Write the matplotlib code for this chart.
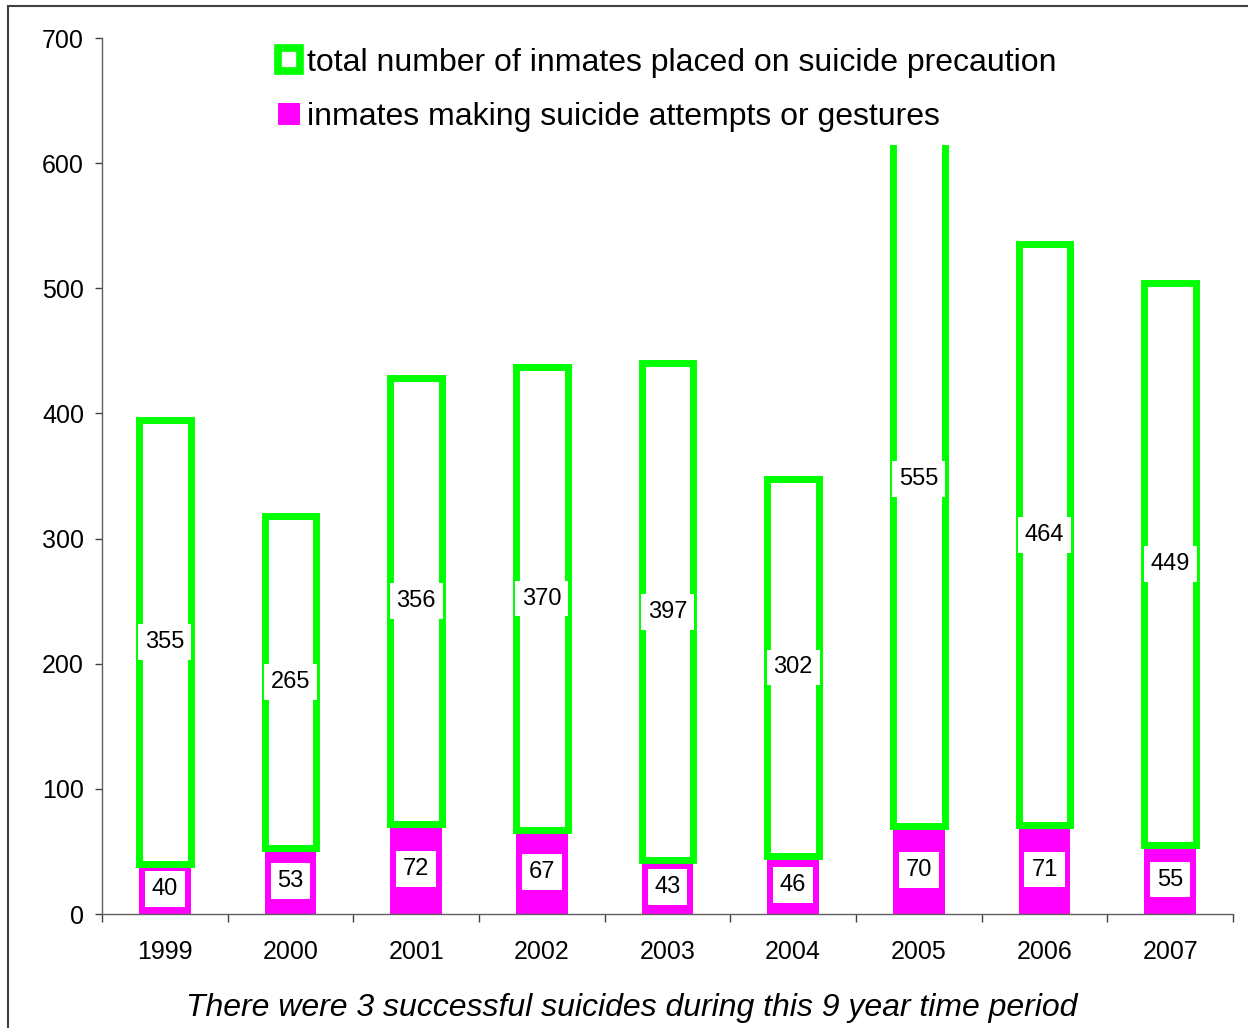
import matplotlib
matplotlib.use('Agg')
import matplotlib.pyplot as plt
from matplotlib.patches import Patch, Rectangle
from matplotlib.ticker import FixedLocator, NullFormatter
import numpy as np

years = ['1999', '2000', '2001', '2002', '2003', '2004', '2005', '2006', '2007']
attempts = [40, 53, 72, 67, 43, 46, 70, 71, 55]
precaution = [355, 265, 356, 370, 397, 302, 555, 464, 449]
legend_labels = ['total number of inmates placed on suicide precaution',
                 'inmates making suicide attempts or gestures']
caption = 'There were 3 successful suicides during this 9 year time period'

plt.rcParams['font.family'] = ['Liberation Sans', 'DejaVu Sans']

W, H = 1248, 1028
fig = plt.figure(figsize=(W / 100, H / 100), dpi=100)
ax = fig.add_axes([102 / W, 1 - 914 / H, (1233 - 102) / W, (914 - 38) / H])

GREEN = '#00FF00'
MAGENTA = '#FF00FF'
x = np.arange(len(years))
w = 0.41

ax.bar(x, attempts, w, color=MAGENTA, edgecolor='none', zorder=2)
ax.bar(x, precaution, w, bottom=attempts, facecolor='white', edgecolor=GREEN,
       linewidth=5, zorder=3)

box = dict(facecolor='white', edgecolor='none', pad=5)
for i in range(len(years)):
    ax.text(x[i], attempts[i] / 2, str(attempts[i]), ha='center', va='center',
            fontsize=17, bbox=box, zorder=5)
    ax.text(x[i], attempts[i] + precaution[i] / 2, str(precaution[i]),
            ha='center', va='center', fontsize=17, bbox=box, zorder=5)

ax.set_xlim(-0.5, len(years) - 0.5)
ax.set_ylim(0, 700)
ax.set_yticks(range(0, 701, 100))
ax.tick_params(axis='y', direction='out', length=5, width=1, color='#404040',
               labelsize=18, pad=8)

ax.xaxis.set_major_locator(FixedLocator(np.arange(-0.5, len(years), 1.0)))
ax.xaxis.set_major_formatter(NullFormatter())
ax.xaxis.set_minor_locator(FixedLocator(x))
ax.set_xticks(x, minor=True)
ax.set_xticklabels(years, minor=True)
ax.tick_params(axis='x', which='major', direction='out', length=6, width=1,
               color='#404040')
ax.tick_params(axis='x', which='minor', length=0, labelsize=18, pad=19)

for s in ['top', 'right']:
    ax.spines[s].set_visible(False)
for s in ['left', 'bottom']:
    ax.spines[s].set_color('#606060')
    ax.spines[s].set_linewidth(1)

handles = [Patch(facecolor='white', edgecolor=GREEN, linewidth=5.5),
           Patch(facecolor=MAGENTA, edgecolor='none')]
leg = ax.legend(handles, legend_labels, loc='upper left',
                bbox_to_anchor=(265 / W, 1 - 35 / H),
                bbox_transform=fig.transFigure, fontsize=23, frameon=True,
                facecolor='white', edgecolor='none', framealpha=1,
                handlelength=0.7, handleheight=0.7, handletextpad=0.2,
                labelspacing=0.76, borderpad=0.4, borderaxespad=0)
leg.set_zorder(10)

fig.text(632 / W, 1 - 1008 / H, caption, ha='center', va='center',
         style='italic', fontsize=23)

fig.patches.append(Rectangle((8 / W, -0.05), 1.2, 1 - 6 / H + 0.05,
                             transform=fig.transFigure, fill=False,
                             edgecolor='#404040', linewidth=1.5))

fig.savefig('out.png', dpi=100)
